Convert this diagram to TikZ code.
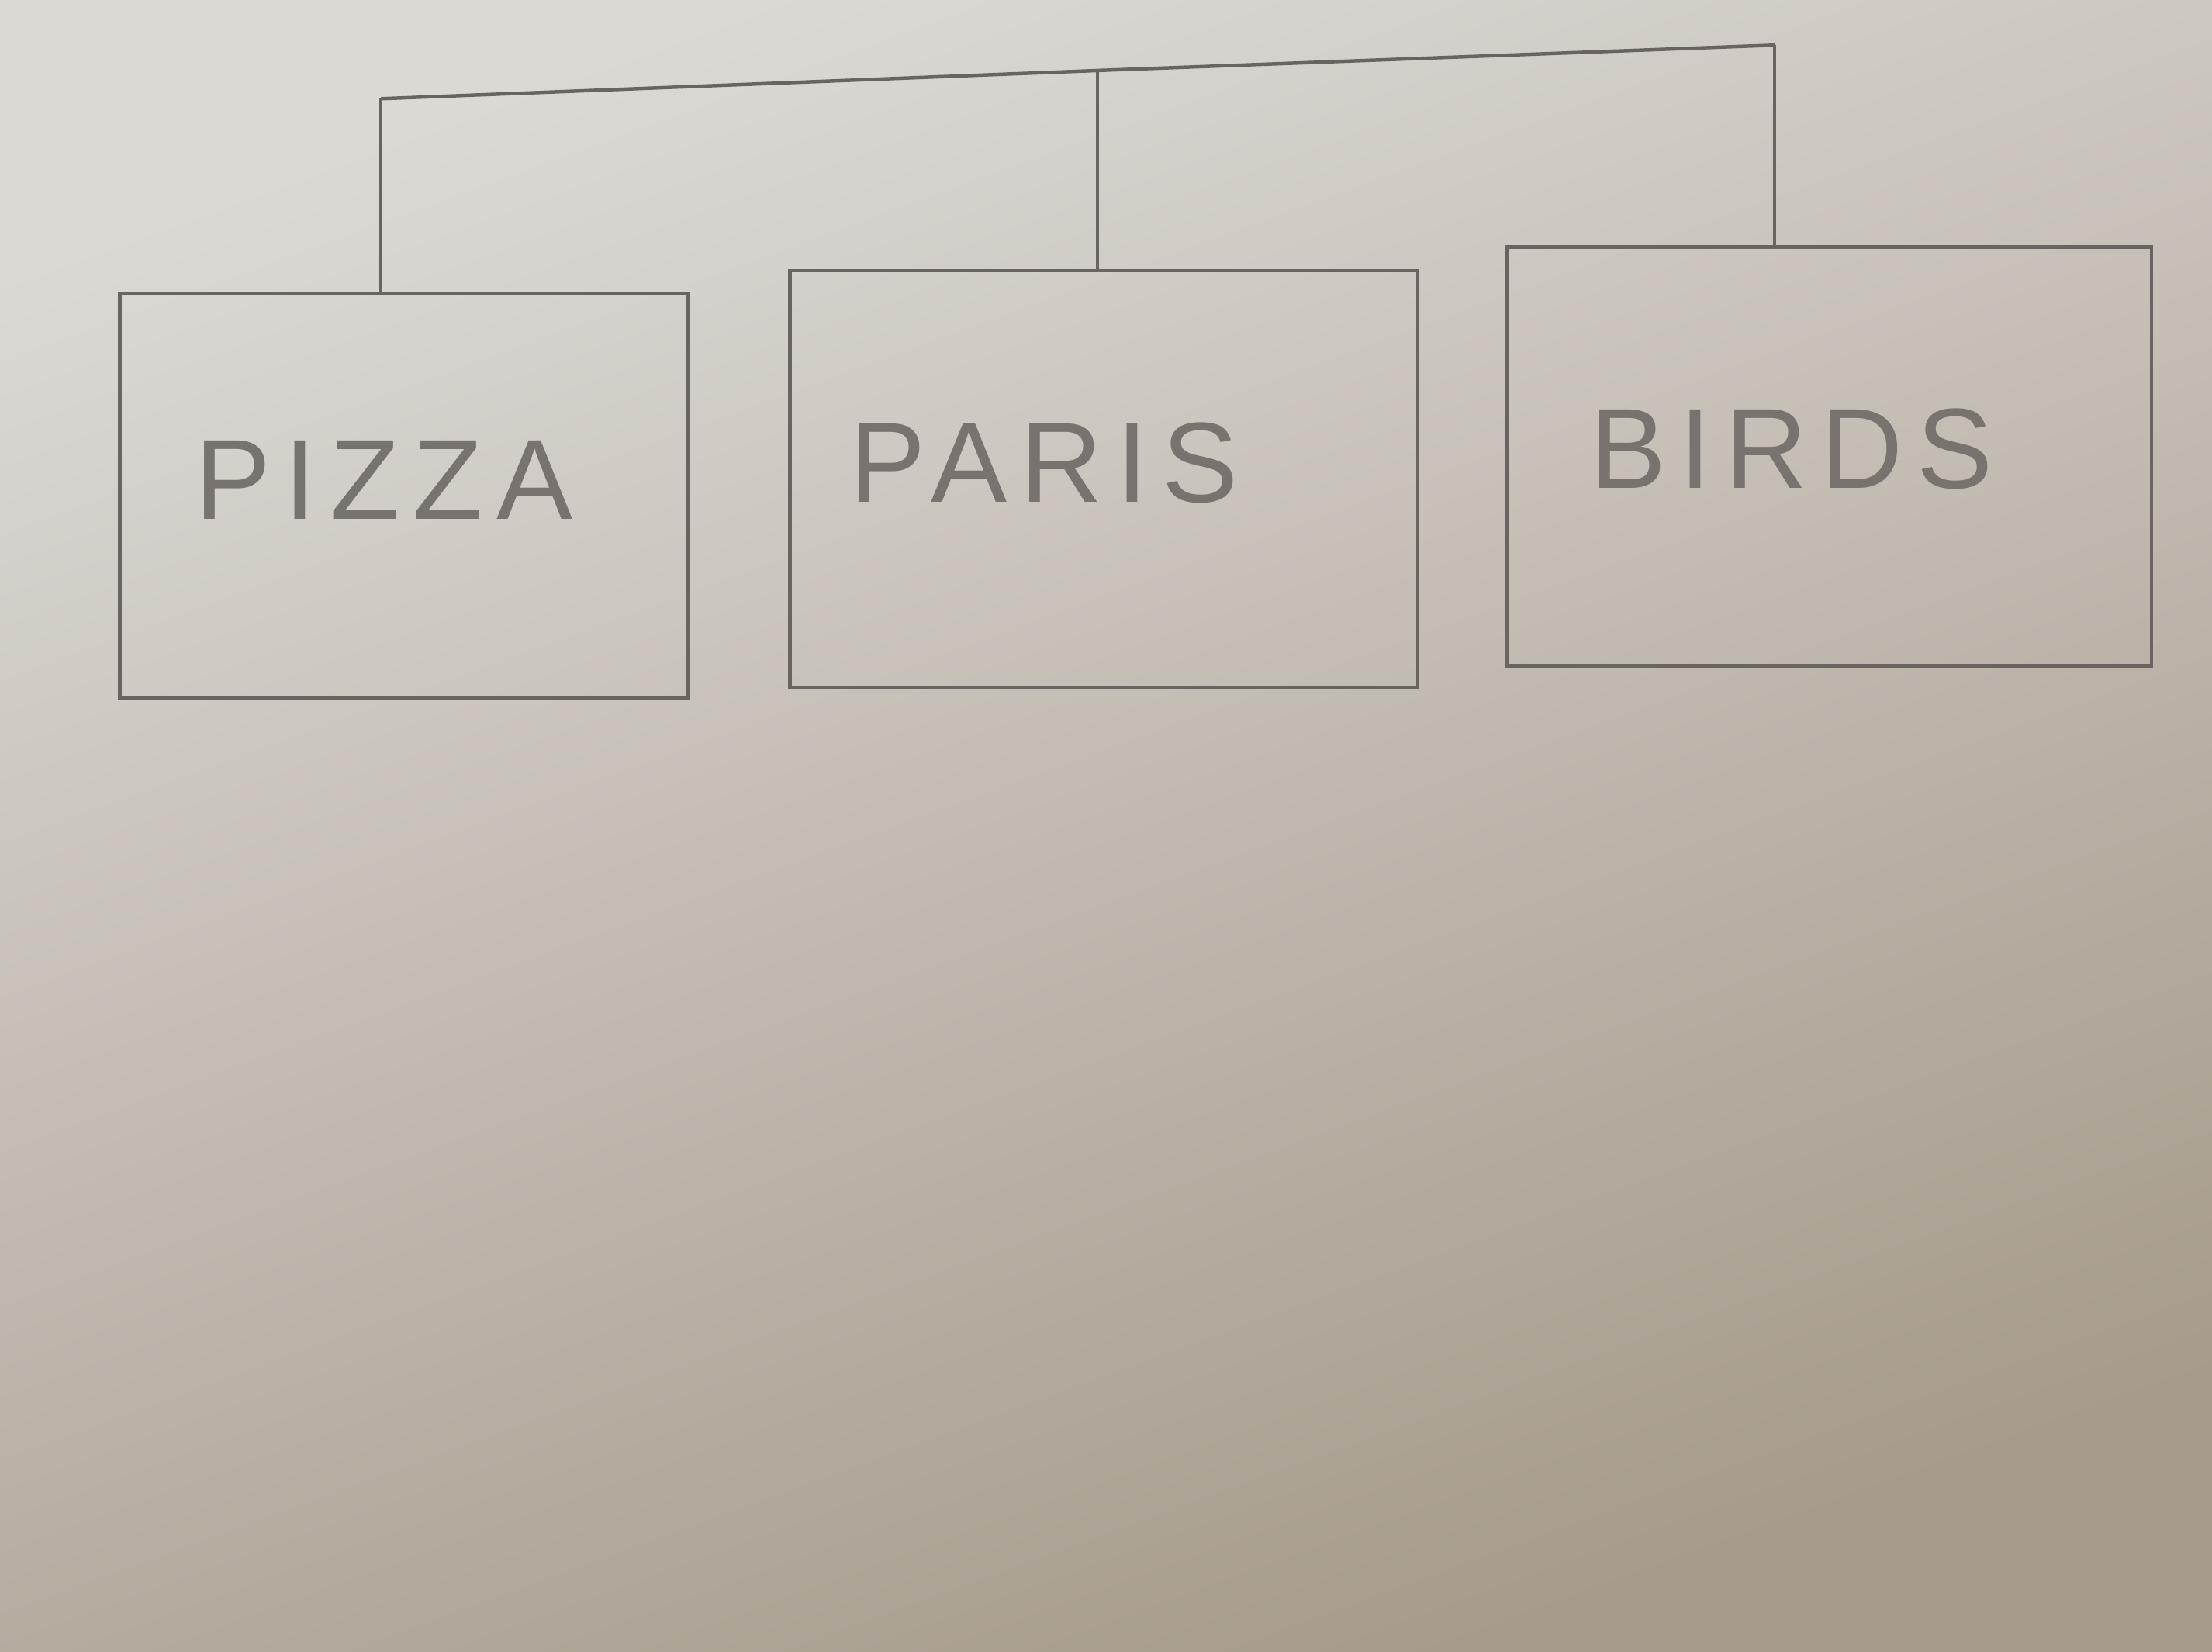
\documentclass[tikz,border=0pt]{standalone}
\usepackage{fontspec}
\usepackage{tikz}
\usetikzlibrary{positioning}
\newfontfamily\handfont[LetterSpace=12]{Liberation Sans}
\definecolor{paper}{RGB}{220,217,213}
\definecolor{paperdark}{RGB}{166,155,140}
\definecolor{pencil}{RGB}{105,100,96}
\definecolor{lettering}{RGB}{120,115,110}

\begin{document}
\begin{tikzpicture}[
            line width = 0.7pt, % pencil stroke
            draw = pencil
        ]

        \tikzstyle{box}=[
            draw = pencil,
            rectangle,
            line width = 0.7pt,
            inner sep = 0pt
        ]
        \tikzstyle{word}=[
            text = lettering,
            font = \handfont\fontsize{23}{28}\selectfont
        ]

        % the sheet of paper
        \useasboundingbox (0,0) rectangle (15.68,11.71);
        \shade[top color = paper, bottom color = paperdark, shading angle = 20]
            (0,0) rectangle (15.68,11.71);

        \node[box, minimum width = 4.03cm, minimum height = 2.87cm] (pizza) at (2.865,8.195) {};
        \node[box, minimum width = 4.45cm, minimum height = 2.95cm] (paris) at (7.825,8.315) {};
        \node[box, minimum width = 4.57cm, minimum height = 2.97cm] (birds) at (12.965,8.475) {};

        \node[word] (pizzaword) at (2.72,8.31) {PIZZA};
        \node[word] (parisword) at (7.40,8.43) {PARIS};
        \node[word] (birdsword) at (12.70,8.53) {BIRDS};

        % the bar on top
        \coordinate (barL) at (2.70,11.01);
        \coordinate (barM) at (7.78,11.21);
        \coordinate (barR) at (12.58,11.39);

        \draw[pencil] (barL) -- (barM) -- (barR);
        \draw[pencil] (barL) -- (barL |- pizza.north);
        \draw[pencil] (barM) -- (barM |- paris.north);
        \draw[pencil] (barR) -- (barR |- birds.north);

    \end{tikzpicture}
\end{document}
